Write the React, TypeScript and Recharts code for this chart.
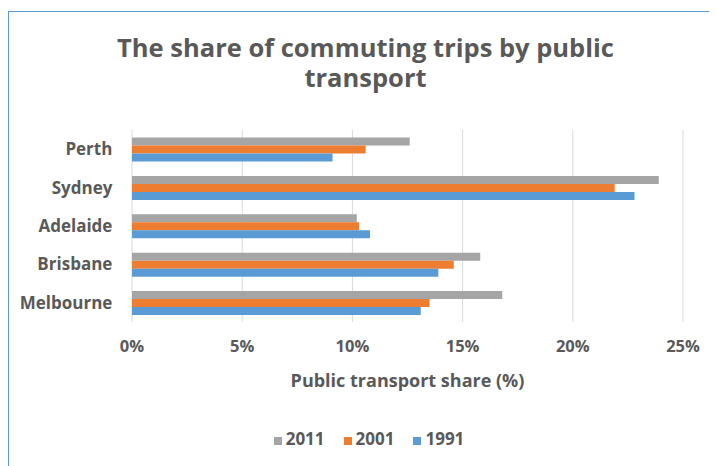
import { BarChart, Bar, XAxis, YAxis, CartesianGrid, Legend, Label } from "recharts";

const cities = ["Perth", "Sydney", "Adelaide", "Brisbane", "Melbourne"];
const share2011 = [12.6, 23.9, 10.2, 15.8, 16.8];
const share2001 = [10.6, 21.9, 10.3, 14.6, 13.5];
const share1991 = [9.1, 22.8, 10.8, 13.9, 13.1];
const xTicks = [0, 5, 10, 15, 20, 25];
const legendOrder = ["2011", "2001", "1991"];

const data = cities.map((city, i) => ({
  city,
  y2011: share2011[i],
  y2001: share2001[i],
  y1991: share1991[i],
}));

const FONT = "'Open Sans', sans-serif";
const TEXT = "#595959";
const FRAME = "#5B9BD5";

const titleLine = (top: number) => ({
  position: "absolute" as const,
  top,
  left: 0,
  width: 709,
  paddingLeft: 8,
  boxSizing: "border-box" as const,
  textAlign: "center" as const,
  fontSize: 25.5,
  lineHeight: "26px",
  fontWeight: 700,
  color: TEXT,
  whiteSpace: "nowrap" as const,
});

const App = () => {
  return (
    <div
      style={{
        position: "relative",
        marginLeft: -1,
        marginTop: 3,
        width: 710,
        height: 455,
        fontFamily: FONT,
        overflow: "hidden",
      }}
    >
      <div style={{ position: "absolute", left: 0, top: 0, width: 710, height: 1, background: FRAME }} />
      <div style={{ position: "absolute", left: 0, top: 0, width: 2, height: 455, background: FRAME, zIndex: 5 }} />
      <div style={titleLine(23)}>The share of commuting trips by public</div>
      <div style={titleLine(53)}>transport</div>
      <BarChart
        width={709}
        height={454}
        data={data}
        layout="vertical"
        margin={{ top: 118, right: 34, bottom: 74, left: 0 }}
        barCategoryGap={7.5}
        barGap={0}
        style={{ position: "absolute", left: 1, top: 1 }}
      >
        <CartesianGrid horizontal={false} stroke="#D9D9D9" />
        <XAxis
          type="number"
          domain={[0, 25]}
          ticks={xTicks}
          tickFormatter={(v) => `${v}%`}
          axisLine={false}
          tickLine={false}
          tickMargin={12.6}
          height={70}
          tick={{ fill: TEXT, fontSize: 16.5, fontWeight: 700, fontFamily: FONT }}
        >
          <Label
            value="Public transport share (%)"
            position="insideBottom"
            offset={5.4}
            style={{ fill: TEXT, fontSize: 18, fontWeight: 700, fontFamily: FONT }}
          />
        </XAxis>
        <YAxis
          type="category"
          dataKey="city"
          width={124}
          axisLine={false}
          tickLine={false}
          tickMargin={13.6}
          tick={{ fill: TEXT, fontSize: 17, fontWeight: 700, fontFamily: FONT }}
        />
        <Legend
          verticalAlign="middle"
          align="center"
          iconType="square"
          iconSize={8}
          itemSorter={(item: any) => legendOrder.indexOf(String(item.value))}
          wrapperStyle={{ top: 415, left: 16, width: 709 }}
          formatter={(value) => (
            <span style={{ color: TEXT, fontSize: 17, fontWeight: 700, marginRight: 9 }}>{value}</span>
          )}
        />
        <Bar dataKey="y2011" name="2011" fill="#A5A5A5" isAnimationActive={false} />
        <Bar dataKey="y2001" name="2001" fill="#ED7D31" isAnimationActive={false} />
        <Bar dataKey="y1991" name="1991" fill="#5B9BD5" isAnimationActive={false} />
      </BarChart>
    </div>
  );
};

export default App;
